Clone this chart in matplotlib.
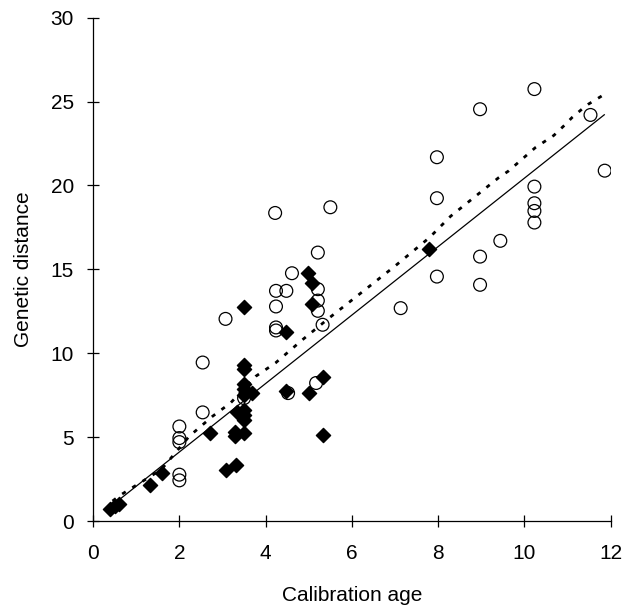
import matplotlib
matplotlib.use("Agg")
import matplotlib.pyplot as plt
import numpy as np

# Open circles
circ_x = [2.0, 2.0, 2.0, 2.0, 2.0, 2.54, 2.54, 3.07, 4.24, 4.48, 4.24, 4.24, 4.24, 4.22,
          4.61, 5.21, 5.21, 5.21, 5.21, 5.32, 5.5, 4.52, 5.17, 3.5,
          7.13, 7.97, 7.97, 7.97, 8.97, 8.97, 8.97, 9.44, 10.23, 10.23, 10.23, 10.23, 10.23,
          11.53, 11.86]
circ_y = [2.77, 2.43, 5.64, 4.95, 4.71, 6.48, 9.45, 12.05, 13.72, 13.72, 12.79, 11.54, 11.36, 18.36,
          14.77, 16.0, 13.82, 13.14, 12.53, 11.70, 18.7, 7.63, 8.23, 7.33,
          12.69, 14.57, 19.24, 21.68, 24.54, 15.76, 14.08, 16.70, 25.74, 19.93, 18.94, 18.48, 17.79,
          24.2, 20.88]

# Filled diamonds
dia_x = [0.4, 0.5, 0.6, 1.31, 1.59, 2.72, 3.07, 3.31, 3.3, 3.3, 3.5,
         3.5, 3.5, 3.5, 3.5, 3.5, 3.68, 3.5, 3.33, 3.5, 3.5, 3.5,
         4.48, 4.48, 5.0, 5.32, 5.32, 4.98, 5.07, 5.07, 7.79]
dia_y = [0.75, 0.9, 1.05, 2.17, 2.87, 5.25, 3.07, 3.36, 5.05, 5.3, 5.25,
         12.75, 9.31, 9.06, 8.18, 7.87, 7.63, 7.5, 6.48, 6.64, 6.34, 6.04,
         11.24, 7.75, 7.63, 8.58, 5.15, 14.77, 14.18, 12.95, 16.2]

# Regression (solid) line
solid_x = [0.45, 11.85]
solid_y = [0.96, 24.21]

# Dotted line vertices
dot_x = [0.45, 0.65, 1.58, 2.23, 2.77, 3.19, 3.77, 4.23, 4.85, 5.47, 6.36, 7.0, 7.8, 8.29,
         9.4, 9.63, 10.25, 10.68, 10.95, 11.1, 11.33, 11.48, 11.9]
dot_y = [1.2, 1.58, 3.07, 5.06, 6.25, 7.05, 8.63, 9.43, 10.8, 12.1, 13.9, 15.2, 16.9, 18.17,
         20.46, 20.86, 22.25, 22.98, 23.64, 24.04, 24.54, 24.84, 25.5]

x_ticks = [0, 2, 4, 6, 8, 10, 12]
y_ticks = [0, 5, 10, 15, 20, 25, 30]

plt.rcParams['font.family'] = ['Liberation Sans', 'DejaVu Sans']

fig = plt.figure(figsize=(6.29, 6.06), dpi=100)
ax = fig.add_axes([0.148, 0.140, 0.823, 0.831])

ax.plot(solid_x, solid_y, color='black', lw=0.9, zorder=2)
ax.plot(dot_x, dot_y, color='black', lw=2.0, linestyle=(0, (1.5, 2.8)), zorder=2)

ax.scatter(circ_x, circ_y, s=85, facecolors='none', edgecolors='black', linewidths=0.9,
           marker='o', zorder=3)
ax.scatter(dia_x, dia_y, s=52, color='black', marker='D', zorder=4)

ax.set_xlim(0, 12)
ax.set_ylim(0, 30)
ax.set_xticks(x_ticks)
ax.set_yticks(y_ticks)
for s in ['top', 'right']:
    ax.spines[s].set_visible(False)
for s in ['left', 'bottom']:
    ax.spines[s].set_linewidth(0.9)
ax.tick_params(direction='inout', length=8.5, width=0.9, labelsize=15, colors='black')
ax.tick_params(axis='x', pad=12.5)
ax.tick_params(axis='y', pad=9.5)
ax.set_xlabel('Calibration age', fontsize=15, labelpad=16)
ax.set_ylabel('Genetic distance', fontsize=15, labelpad=13)

fig.savefig('out.png', dpi=100)
